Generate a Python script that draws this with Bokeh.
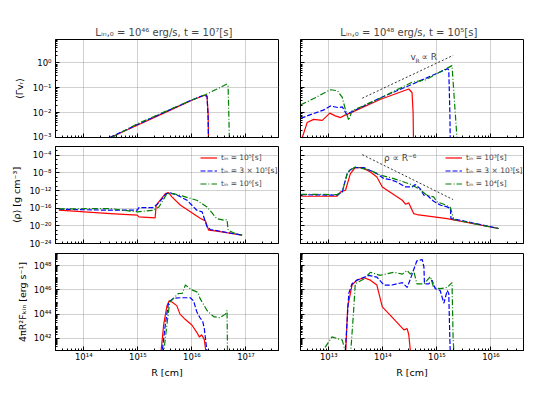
import numpy as np
from bokeh.plotting import figure
from bokeh.models import (Range1d, FixedTicker, CustomJSTickFormatter, Legend,
                          LegendItem, Label, CustomLabelingPolicy)
from bokeh.layouts import column, row
from bokeh.embed import file_html
from bokeh.resources import INLINE

FONT = "DejaVu Sans"

# ---------------- data (log10 R [cm], log10 value) ----------------
# top-left : <Gamma v_R>,  L=1e46, t=1e7
tl_red_R = [14.49, 15.0, 15.5, 16.0, 16.23, 16.28, 16.30, 16.31]
tl_red_v = [-3.0, -2.5, -2.0, -1.5, -1.30, -1.36, -2.0, -3.6]
tl_blue_R = [14.48, 15.0, 15.5, 16.0, 16.24, 16.28, 16.30, 16.31]
tl_blue_v = [-3.0, -2.47, -1.98, -1.49, -1.28, -1.33, -2.2, -3.6]
tl_green_R = [14.52, 15.0, 15.5, 16.0, 16.25, 16.65, 16.67, 16.70]
tl_green_v = [-3.0, -2.44, -1.96, -1.49, -1.28, -0.85, -0.95, -3.6]

# top-right : <Gamma v_R>,  L=1e48, t=1e5
tr_red_R = [12.50, 12.51, 12.60, 12.72, 12.88, 13.02, 13.12, 13.22, 13.29, 13.34, 13.96, 14.48, 14.54, 14.56, 14.57]
tr_red_v = [-3.5, -3.0, -2.40, -2.27, -2.31, -2.02, -2.13, -2.20, -2.11, -2.07, -1.46, -1.05, -1.19, -2.0, -3.6]
tr_blue_R = [12.48, 12.70, 12.90, 13.03, 13.18, 13.25, 13.33, 13.96, 14.48, 15.20, 15.22, 15.24, 15.25]
tr_blue_v = [-2.23, -2.05, -1.90, -1.73, -1.80, -1.77, -2.07, -1.40, -0.92, -0.23, -0.30, -2.0, -3.6]
tr_green_R = [12.48, 12.75, 13.03, 13.16, 13.25, 13.31, 13.37, 13.43, 13.96, 14.54, 14.79, 15.28, 15.38]
tr_green_v = [-1.69, -1.40, -1.08, -1.12, -1.39, -1.90, -2.31, -1.93, -1.41, -0.78, -0.68, -0.11, -3.3]
tr_ref_R = [13.62, 15.30]
tr_ref_v = [-1.42, 0.30]

# middle-left : <rho>
ml_red_R = [13.54, 14.49, 14.99, 15.02, 15.32, 15.34, 15.51, 15.57, 15.63, 15.79, 16.16, 16.25, 16.31, 16.46, 16.93]
ml_red_rho = [-16.45, -17.21, -17.58, -17.96, -18.19, -15.32, -12.68, -12.45, -13.43, -15.32, -18.34, -18.87, -20.98, -21.21, -22.11]
ml_blue_R = [13.54, 14.49, 14.99, 15.02, 15.29, 15.36, 15.53, 15.60, 15.73, 15.91, 16.00, 16.09, 16.19, 16.28, 16.34, 16.93]
ml_blue_rho = [-16.23, -16.45, -16.45, -15.85, -15.85, -15.09, -12.68, -12.53, -13.06, -14.19, -15.32, -16.45, -16.83, -20.23, -20.83, -22.11]
ml_green_R = [13.54, 14.49, 14.99, 15.29, 15.39, 15.54, 15.66, 15.88, 16.09, 16.28, 16.46, 16.59, 16.65, 16.67, 16.77, 16.93]
ml_green_rho = [-16.15, -16.08, -16.83, -16.45, -15.70, -12.68, -12.68, -13.43, -14.19, -15.70, -18.34, -18.72, -18.57, -20.98, -21.58, -22.11]

# middle-right : <rho>
mr_red_R = [12.49, 13.15, 13.22, 13.31, 13.40, 13.49, 13.62, 13.77, 13.89, 13.99, 14.36, 14.42, 14.48, 14.57, 14.63, 15.19, 16.14]
mr_red_rho = [-13.28, -13.28, -12.30, -11.92, -8.15, -6.79, -6.79, -7.77, -8.91, -11.17, -14.19, -15.09, -14.79, -17.21, -17.43, -18.34, -20.60]
mr_blue_R = [12.49, 13.15, 13.25, 13.34, 13.40, 13.46, 13.65, 13.89, 14.02, 14.14, 14.26, 14.42, 14.54, 14.60, 14.69, 14.76, 14.82, 14.94, 15.07, 15.19, 15.25, 15.26, 15.37, 16.14]
mr_blue_rho = [-12.91, -13.06, -12.30, -8.15, -7.25, -6.79, -6.79, -8.15, -9.28, -9.51, -10.04, -11.17, -11.17, -10.64, -11.55, -13.06, -13.06, -14.42, -15.32, -15.70, -16.08, -18.34, -18.57, -20.60]
mr_green_R = [12.49, 13.15, 13.25, 13.35, 13.49, 13.77, 13.96, 14.14, 14.39, 14.51, 14.66, 14.82, 14.94, 15.00, 15.13, 15.25, 15.31, 15.43, 16.14]
mr_green_rho = [-12.83, -12.91, -12.30, -7.77, -6.64, -7.40, -8.53, -9.06, -10.04, -10.57, -11.55, -13.06, -13.43, -14.57, -15.09, -15.85, -18.57, -18.87, -20.60]
mr_ref_R = [13.62, 15.30]
mr_ref_rho = [-3.85, -14.04]

# bottom-left : 4 pi R^2 F_kin
bl_red_R = [15.42, 15.48, 15.54, 15.58, 15.63, 15.72, 15.78, 15.88, 16.00, 16.09, 16.14, 16.18, 16.23, 16.27]
bl_red_F = [40.5, 43.2, 44.7, 45.1, 45.0, 44.7, 44.0, 43.55, 43.1, 42.5, 42.1, 42.3, 41.9, 40.5]
bl_blue_R = [15.44, 15.51, 15.57, 15.66, 15.78, 15.97, 16.03, 16.09, 16.15, 16.20, 16.23, 16.29]
bl_blue_F = [40.5, 43.2, 45.0, 45.3, 45.35, 45.35, 45.1, 44.2, 43.7, 43.4, 42.8, 40.5]
bl_green_R = [15.47, 15.54, 15.59, 15.66, 15.75, 15.82, 15.88, 16.00, 16.11, 16.15, 16.28, 16.40, 16.52, 16.62, 16.65, 16.66]
bl_green_F = [40.5, 43.2, 45.0, 45.3, 45.7, 45.7, 46.4, 46.0, 45.8, 45.3, 44.3, 43.8, 43.7, 44.0, 44.3, 40.5]

# bottom-right : 4 pi R^2 F_kin
br_red_R = [13.31, 13.35, 13.43, 13.52, 13.65, 13.77, 13.89, 13.99, 14.14, 14.39, 14.45, 14.48, 14.52]
br_red_F = [40.5, 44.6, 46.4, 46.8, 47.0, 46.8, 46.4, 44.6, 43.9, 42.7, 42.8, 42.3, 40.5]
br_blue_R = [13.30, 13.37, 13.43, 13.52, 13.74, 13.89, 14.02, 14.17, 14.36, 14.45, 14.51, 14.63, 14.73, 14.76, 14.77, 14.85, 14.91, 14.97, 15.06, 15.13, 15.19, 15.22, 15.24, 15.25]
br_blue_F = [40.5, 45.7, 46.5, 46.8, 47.2, 47.05, 46.4, 46.4, 46.6, 46.2, 46.9, 48.4, 48.5, 47.9, 46.5, 46.5, 46.8, 46.1, 45.95, 44.9, 45.95, 45.7, 41.9, 40.5]
br_green_R = [12.82, 13.06, 13.25, 13.33, 13.40, 13.46, 13.49, 13.65, 13.77, 13.95, 14.20, 14.36, 14.45, 14.51, 14.57, 14.63, 14.76, 14.88, 14.94, 15.06, 15.19, 15.28, 15.30, 15.32]
br_green_F = [40.5, 42.12, 41.85, 40.5, 40.5, 44.3, 46.5, 46.9, 47.45, 47.2, 47.45, 47.3, 47.6, 47.3, 47.6, 46.5, 46.5, 47.1, 46.2, 46.1, 46.2, 46.6, 42.0, 40.5]

titles = ["L\u1d62\u2099,\u2080 = 10\u2074\u2076 erg/s,   t = 10\u2077[s]",
          "L\u1d62\u2099,\u2080 = 10\u2074\u2078 erg/s,   t = 10\u2075[s]"]
ylabels = ["\u27e8\u0393v\u1d63\u27e9", "\u27e8\u03c1\u27e9 [g cm\u207b\u00b3]",
           "4\u03c0R\u00b2F\u2096\u1d62\u2099 [erg s\u207b\u00b9]"]
xlabel = "R [cm]"
legend_left = ["t\u1d62\u2099 = 10\u2075[s]", "t\u1d62\u2099 = 3 \u00d7 10\u2075[s]", "t\u1d62\u2099 = 10\u2076[s]"]
legend_right = ["t\u1d62\u2099 = 10\u00b3[s]", "t\u1d62\u2099 = 3 \u00d7 10\u00b3[s]", "t\u1d62\u2099 = 10\u2074[s]"]

x_ranges = [(3e13, 4e17), (3e12, 4e16)]
y_ranges = [(1e-3, 8.7), (1e-24, 1e-2), (1e41, 1e49)]

# ---------------- layout (page has no margin) ----------------
FW = 223
FH = [98, 97, 97]
COLB = [(55, 11), (11, 20)]      # left, right border per column
ROWB = [(39, 4), (5, 5), (5, 36)]  # top, bottom border per row
YLAB_STANDOFF = [5, 4, 3]

sup = CustomJSTickFormatter(code="""
const m = {'-':'\u207b','0':'\u2070','1':'\u00b9','2':'\u00b2','3':'\u00b3','4':'\u2074','5':'\u2075','6':'\u2076','7':'\u2077','8':'\u2078','9':'\u2079'};
const e = Math.round(Math.log10(tick));
return '10' + String(e).split('').map(c => m[c]).join('');
""")
blank = CustomJSTickFormatter(code="return ''")
nolabels = CustomLabelingPolicy(code="""
const a = [...indices];
for (const i of a) { indices.unset(i) }
return indices
""")


def decade_ticker(lo, hi, step=1, minor_all=True):
    majors = [10.0 ** e for e in range(lo, hi + 1, step)]
    minors = []
    for e in range(lo - 1, hi + 2):
        if minor_all:
            minors += [k * 10.0 ** e for k in range(1, 10)]
        else:
            minors.append(10.0 ** e)
    return FixedTicker(ticks=majors, minor_ticks=minors)


x_tickers = [(13, 18, 1, True), (12, 17, 1, True)]
y_tickers = [(-3, 1, 1, True), (-24, -2, 4, False), (42, 48, 2, True)]

RED, BLUE, GREEN = "#ff0000", "#0000ff", "#008000"


def hide_labels(ax):
    ax.formatter = blank
    ax.major_label_policy = nolabels
    ax.major_label_text_font_size = "1px"
    ax.major_label_standoff = 0


def make(r, c):
    lb, rb = COLB[c]
    tb, bb = ROWB[r]
    p = figure(width=lb + FW + rb, height=tb + FH[r] + bb, x_axis_type="log", y_axis_type="log",
               x_range=Range1d(*x_ranges[c]), y_range=Range1d(*y_ranges[r]),
               output_backend="svg", toolbar_location=None,
               min_border_left=lb, min_border_right=rb, min_border_top=tb, min_border_bottom=bb)
    p.outline_line_color = "black"
    p.outline_line_width = 1
    p.background_fill_color = "white"
    p.border_fill_color = "white"
    p.xaxis[0].ticker = decade_ticker(*x_tickers[c])
    p.yaxis[0].ticker = decade_ticker(*y_tickers[r])
    for ax in (p.xaxis[0], p.yaxis[0]):
        ax.major_tick_in = 4
        ax.major_tick_out = 0
        ax.minor_tick_in = 2
        ax.minor_tick_out = 0
        ax.axis_line_color = "black"
        ax.major_tick_line_color = "black"
        ax.minor_tick_line_color = "black"
        ax.formatter = sup
        ax.major_label_text_font = FONT
        ax.major_label_text_font_size = "8.5px"
        ax.major_label_text_color = "black"
        ax.axis_label_text_font = FONT
        ax.axis_label_text_font_size = "9.5px"
        ax.axis_label_text_font_style = "normal"
        ax.axis_label_text_color = "black"
        ax.major_label_standoff = 4
        ax.axis_label_standoff = 4
    if r < 2:
        hide_labels(p.xaxis[0])
    else:
        p.xaxis[0].axis_label = xlabel
        p.xaxis[0].major_label_standoff = 1
        p.xaxis[0].axis_label_standoff = 2
    if c == 1:
        hide_labels(p.yaxis[0])
    else:
        p.yaxis[0].axis_label = ylabels[r]
        p.yaxis[0].axis_label_standoff = YLAB_STANDOFF[r]
    for g in (p.xgrid[0], p.ygrid[0]):
        g.grid_line_color = "#8c8c8c"
        g.grid_line_dash = "1 1"
        g.grid_line_width = 0.8
    if r == 0:
        p.title.text = titles[c]
        p.title.align = "center"
        p.title.text_font = FONT
        p.title.text_font_size = "10px"
        p.title.text_font_style = "normal"
        p.title.standoff = 4
    return p


def L(R, v):
    return [10.0 ** a for a in R], [10.0 ** b for b in v]


def draw(p, series, labels=None):
    rends = []
    for (R, v), color, dash in zip(series, (RED, BLUE, GREEN), ("solid", "5 2", "6 2 1 2")):
        x, y = L(R, v)
        rends.append(p.line(x, y, line_color=color, line_width=1.2, line_dash=dash))
    if labels:
        items = [LegendItem(label=t, renderers=[rr]) for t, rr in zip(labels, rends)]
        lg = Legend(items=items, location=(145, 53), border_line_color=None,
                    background_fill_alpha=0, padding=0, margin=0, spacing=0,
                    glyph_height=13, label_height=13, glyph_width=17, label_standoff=4,
                    label_text_font=FONT, label_text_font_size="7.5px")
        p.add_layout(lg, "center")


p11 = make(0, 0)
draw(p11, [(tl_red_R, tl_red_v), (tl_blue_R, tl_blue_v), (tl_green_R, tl_green_v)])
p12 = make(0, 1)
draw(p12, [(tr_red_R, tr_red_v), (tr_blue_R, tr_blue_v), (tr_green_R, tr_green_v)])
x, y = L(tr_ref_R, tr_ref_v)
p12.line(x, y, line_color="black", line_width=0.8, line_dash="2 2")
ax_, ay_ = 10 ** 14.51, 10 ** 0.23
p12.add_layout(Label(x=ax_, y=ay_, text="v", text_font=FONT, text_font_size="9px", text_baseline="middle"))
p12.add_layout(Label(x=ax_, y=ay_, x_offset=5, y_offset=-3, text="R", text_font=FONT, text_font_size="6px", text_baseline="middle"))
p12.add_layout(Label(x=ax_, y=ay_, x_offset=11, text="\u221d R", text_font=FONT, text_font_size="9px", text_baseline="middle"))

p21 = make(1, 0)
draw(p21, [(ml_red_R, ml_red_rho), (ml_blue_R, ml_blue_rho), (ml_green_R, ml_green_rho)], legend_left)
p22 = make(1, 1)
draw(p22, [(mr_red_R, mr_red_rho), (mr_blue_R, mr_blue_rho), (mr_green_R, mr_green_rho)], legend_right)
x, y = L(mr_ref_R, mr_ref_rho)
p22.line(x, y, line_color="black", line_width=0.8, line_dash="2 2")
p22.add_layout(Label(x=10 ** 14.02, y=10 ** -4.52, text="\u03c1 \u221d R\u207b\u2076", text_font=FONT,
                     text_font_size="9px", text_baseline="middle"))

p31 = make(2, 0)
draw(p31, [(bl_red_R, bl_red_F), (bl_blue_R, bl_blue_F), (bl_green_R, bl_green_F)])
p32 = make(2, 1)
draw(p32, [(br_red_R, br_red_F), (br_blue_R, br_blue_F), (br_green_R, br_green_F)])

layout = column(row(p11, p12), row(p21, p22), row(p31, p32))

with open("out.html", "w") as f:
    f.write(file_html(layout, INLINE))
